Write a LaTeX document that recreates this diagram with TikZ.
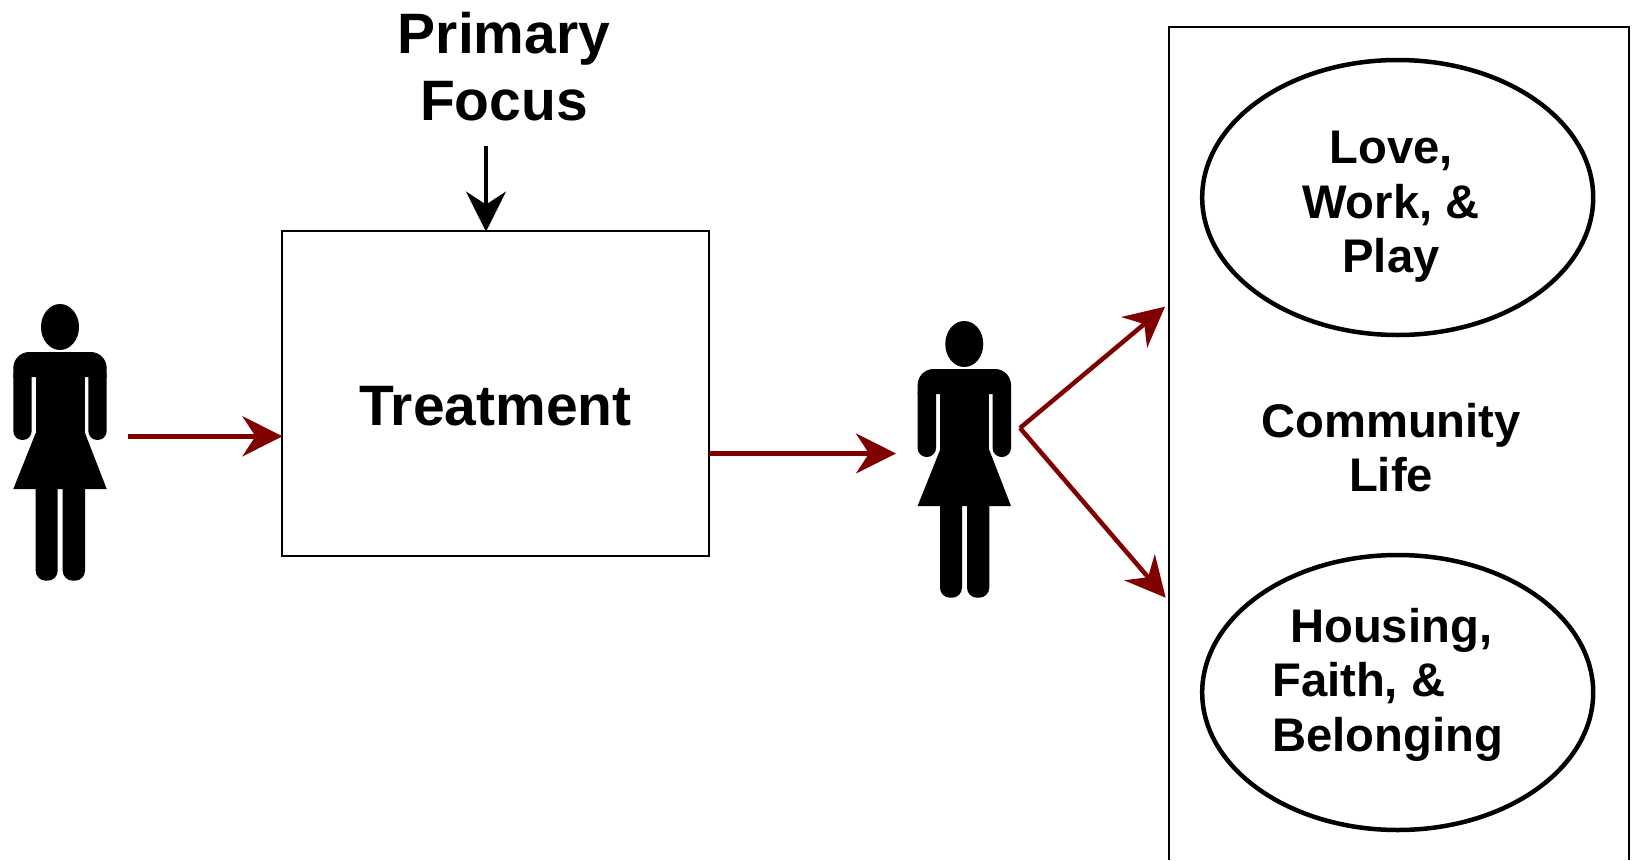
\documentclass[tikz,border=0pt]{standalone}
\usepackage{fontspec}
\setmainfont{Liberation Sans}
\usetikzlibrary{arrows.meta,shapes.geometric}
\definecolor{arrowred}{RGB}{128,0,0}
\tikzset{
  flow/.style={
    draw=arrowred,
    line width=4.5pt,
    -{Stealth[length=40pt,width=40pt,inset=13pt,fill=arrowred]}
  },
  flow-thin/.style={flow, line width=4.5pt},
  focus/.style={
    draw=black,
    line width=3.5pt,
    -{Stealth[length=40pt,width=40pt,inset=13pt,fill=black]}
  },
  label-big/.style={font=\bfseries\fontsize{57}{66.5}\selectfont, align=center, inner sep=0pt},
  label-mid/.style={font=\bfseries\fontsize{47.2}{54.5}\selectfont, align=center, inner sep=0pt},
  frame/.style={draw=black, line width=2pt},
  oval/.style={ellipse, draw=black, line width=4.5pt, minimum width=391pt, minimum height=275pt, inner sep=0pt}
}
\newcommand{\womanfig}{
  \fill (0,0) ellipse [x radius=19, y radius=23];
  \fill (-46.7,50) [rounded corners=16pt] -- (-46.7,25) -- (46.7,25) [sharp corners] -- (46.7,50) -- cycle;
  \fill (-24.3,40) rectangle (25,162);
  \fill (-24.3,106) -- (-46.7,162) -- (46.7,162) -- (25,106) -- cycle;
  \foreach \x/\w in {-46.7/18.4, 28.3/18.4} {
    \fill[rounded corners=9pt] (\x,40) rectangle ++(\w,73);
  }
  \foreach \x/\w in {-24.3/22, 2.7/22.3} {
    \fill[rounded corners=10pt] (\x,150) rectangle ++(\w,103.7);
  }
}

\begin{document}
\begin{tikzpicture}[x=1pt, y=-1pt]
  \useasboundingbox (0,0) rectangle (1634,860);

  % first and second figure
  \begin{scope}[shift={(60,327)}]
    \womanfig
  \end{scope}
  \begin{scope}[shift={(964.3,344)}]
    \womanfig
  \end{scope}

  \node[frame, minimum width=427pt, minimum height=324.7pt, inner sep=0pt] (treatment) at (495.5,393.4) {};
  \node[label-big, anchor=base] (treatmenttext) at (495.5,425) {Treatment};
  \node[label-big, anchor=base] (primary) at (504,53) {Primary};
  \node[label-big, anchor=base] (focustext) at (504,120) {Focus};

  % community box runs off the bottom
  \draw[frame] (1169,860) |- (1629,26.5) -- (1629,860);

  \node[oval] (love) at (1397.7,197.5) {};
  \node[oval] (housing) at (1397.7,692.5) {};
  \node[label-mid] (lovetext) at (1391,207) {Love,\\Work, \&\\Play};
  \node[label-mid] (community) at (1391,447.5) {Community\\Life};
  \node[label-mid, align=left, anchor=west] (housingtext) at (1272,684.5) {\hspace*{18pt}Housing,\\Faith, \&\\Belonging};

  \coordinate (womanA) at (128,436.3);
  \coordinate (womanB) at (709,453.5);
  \coordinate (womanBtip) at (896,453.5);
  \coordinate (fan) at (1020,428);
  \coordinate (fanup) at (1165,306.7);
  \coordinate (fandown) at (1165.7,597.7);
  \coordinate (focusstart) at (486,146);

  \draw[flow, shorten >=-1.5pt] (womanA) -- (womanA -| treatment.west);
  \draw[flow] (womanB) -- (womanBtip);
  \draw[flow-thin] (fan) -- (fanup);
  \draw[flow-thin] (fan) -- (fandown);
  \draw[focus, shorten >=-1.5pt] (focusstart) -- (focusstart |- treatment.north);
\end{tikzpicture}
\end{document}
